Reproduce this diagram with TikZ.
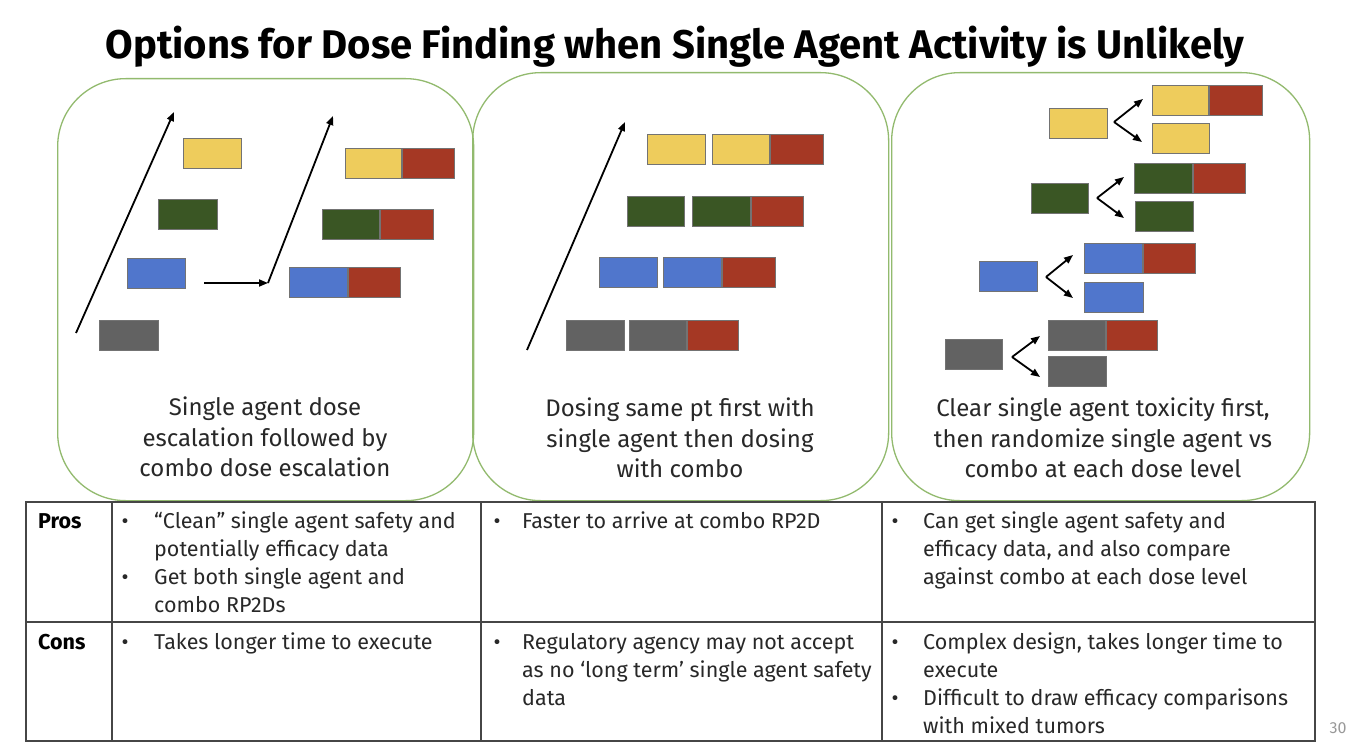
\documentclass[tikz,border=0pt]{standalone}
\usepackage{fontspec}
\setmainfont{Fira Sans}
\usetikzlibrary{arrows.meta}
\definecolor{ylw}{RGB}{238,204,92}
\definecolor{grn}{RGB}{58,86,36}
\definecolor{blu}{RGB}{80,118,204}
\definecolor{gry}{RGB}{98,98,98}
\definecolor{rd}{RGB}{165,56,36}
\definecolor{pangreen}{RGB}{146,186,110}
\definecolor{txt}{RGB}{40,40,40}
\definecolor{tblline}{RGB}{70,70,70}
\begin{document}
\begin{tikzpicture}[x=1pt,y=-1pt,
  blk/.style={draw=black!55,line width=0.6,inner sep=0,minimum height=30,anchor=north west},
  blkr/.style={blk,fill=rd,anchor=west},
  panel/.style={draw=pangreen,line width=1.3,rounded corners=68,inner sep=0,anchor=north west},
  arr/.style={-{Triangle[length=9,width=7]},line width=1.8,black},
  captxt/.style={align=center,text=txt,font=\fontsize{24}{30.5}\selectfont},
  celltxt/.style={anchor=base west,inner sep=0,text=txt,font=\fontsize{21.5}{24}\selectfont},
  bul/.style={anchor=base,inner sep=0,text=txt,font=\fontsize{21.5}{24}\selectfont},
  hd/.style={anchor=base west,inner sep=0,text=black,font=\fontsize{21.5}{24}\selectfont\bfseries},
  tbl/.style={draw=tblline,line width=1.2}
]
\useasboundingbox[fill=white] (0,0) rectangle (1366,743);

% title
\node[font=\fontsize{40}{46}\selectfont\bfseries] (title) at (675,47) {Options for Dose Finding when Single Agent Activity is Unlikely};

% panels
\node[panel,minimum width=416,minimum height=422] (pan1) at (57,78) {};
\node[panel,minimum width=416,minimum height=428] (pan2) at (472,72) {};
\node[panel,minimum width=418,minimum height=428] (pan3) at (891,72) {};

% panel 1
\node[blk,fill=ylw,minimum width=58] (a1) at (183,138) {};
\node[blk,fill=grn,minimum width=59] (a2) at (158,199) {};
\node[blk,fill=blu,minimum width=58] (a3) at (127,258) {};
\node[blk,fill=gry,minimum width=59] (a4) at (99,320) {};
\node[blk,fill=ylw,minimum width=56] (b1) at (345,148) {};
\node[blkr,minimum width=52] (b1r) at (b1.east) {};
\node[blk,fill=grn,minimum width=57] (b2) at (322,209) {};
\node[blkr,minimum width=53] (b2r) at (b2.east) {};
\node[blk,fill=blu,minimum width=58] (b3) at (289,267) {};
\node[blkr,minimum width=52] (b3r) at (b3.east) {};
\coordinate (e1s) at (76,333);
\coordinate (e1e) at (174,112);
\coordinate (hs) at (204,283);
\coordinate (hk) at (268,283);
\coordinate (e2e) at (333,116);
\draw[arr] (e1s) -- (e1e);
\draw[arr] (hs) -- (hk);
\draw[arr] (hk) -- (e2e);
\node[captxt] (cap1) at (265,437) {Single agent dose\\escalation followed by\\combo dose escalation};

% panel 2
\node[blk,fill=ylw,minimum width=58] (c1) at (647,134) {};
\node[blk,fill=ylw,minimum width=57] (c1b) at (712,134) {};
\node[blkr,minimum width=53] (c1r) at (c1b.east) {};
\node[blk,fill=grn,minimum width=57] (c2) at (627,196) {};
\node[blk,fill=grn,minimum width=58] (c2b) at (692,196) {};
\node[blkr,minimum width=52] (c2r) at (c2b.east) {};
\node[blk,fill=blu,minimum width=58] (c3) at (599,257) {};
\node[blk,fill=blu,minimum width=58] (c3b) at (663,257) {};
\node[blkr,minimum width=53] (c3r) at (c3b.east) {};
\node[blk,fill=gry,minimum width=58] (c4) at (566,320) {};
\node[blk,fill=gry,minimum width=57] (c4b) at (629,320) {};
\node[blkr,minimum width=51] (c4r) at (c4b.east) {};
\coordinate (e3s) at (527,350);
\coordinate (e3e) at (625,122);
\draw[arr] (e3s) -- (e3e);
\node[captxt] (cap2) at (680,438) {Dosing same pt first with\\single agent then dosing\\with combo};

% panel 3
\node[blk,fill=ylw,minimum width=58] (ys) at (1049,108) {};
\node[blk,fill=ylw,minimum width=56] (yc) at (1152,85) {};
\node[blkr,minimum width=53] (ycr) at (yc.east) {};
\node[blk,fill=ylw,minimum width=57] (yr) at (1152,123) {};
\coordinate (yv) at (1114,122);
\coordinate (yu) at (1143,99);
\coordinate (yd) at (1142,142);
\draw[arr] (yv) -- (yu);
\draw[arr] (yv) -- (yd);

\node[blk,fill=grn,minimum width=57] (gs) at (1031,183) {};
\node[blk,fill=grn,minimum width=58] (gc) at (1134,163) {};
\node[blkr,minimum width=52] (gcr) at (gc.east) {};
\node[blk,fill=grn,minimum width=58] (gr) at (1135,201) {};
\coordinate (gv) at (1097,198);
\coordinate (gu) at (1124,177);
\coordinate (gd) at (1124,218);
\draw[arr] (gv) -- (gu);
\draw[arr] (gv) -- (gd);

\node[blk,fill=blu,minimum width=58] (bs) at (979,261) {};
\node[blk,fill=blu,minimum width=58] (bc) at (1084,243) {};
\node[blkr,minimum width=52] (bcr) at (bc.east) {};
\node[blk,fill=blu,minimum width=59] (br) at (1084,282) {};
\coordinate (bv) at (1046,277);
\coordinate (bu) at (1073,255);
\coordinate (bd) at (1073,298);
\draw[arr] (bv) -- (bu);
\draw[arr] (bv) -- (bd);

\node[blk,fill=gry,minimum width=57] (ks) at (945,339) {};
\node[blk,fill=gry,minimum width=57] (kc) at (1048,320) {};
\node[blkr,minimum width=51] (kcr) at (kc.east) {};
\node[blk,fill=gry,minimum width=58] (kr) at (1048,356) {};
\coordinate (kv) at (1012,357);
\coordinate (ku) at (1040,336);
\coordinate (kd) at (1040,377);
\draw[arr] (kv) -- (ku);
\draw[arr] (kv) -- (kd);
\node[captxt] (cap3) at (1103,438) {Clear single agent toxicity first,\\then randomize single agent vs\\combo at each dose level};

% table
\draw[tbl] (26,502) rectangle (1315,741);
\draw[tbl] (26,622) -- (1315,622);
\draw[tbl] (112,502) -- (112,741);
\draw[tbl] (481,502) -- (481,741);
\draw[tbl] (882,502) -- (882,741);

\node[hd] (pros) at (38,528) {Pros};
\node[hd] (cons) at (38,649) {Cons};

\node[bul] (p1b1) at (125,528) {•};
\node[celltxt] (p1l1) at (154,528) {“Clean” single agent safety and};
\node[celltxt] (p1l2) at (154,556) {potentially efficacy data};
\node[bul] (p1b2) at (125,584) {•};
\node[celltxt] (p1l3) at (154,584) {Get both single agent and};
\node[celltxt] (p1l4) at (154,612) {combo RP2Ds};

\node[bul] (p2b1) at (497,528) {•};
\node[celltxt] (p2l1) at (522,528) {Faster to arrive at combo RP2D};

\node[bul] (p3b1) at (895,528) {•};
\node[celltxt] (p3l1) at (923,528) {Can get single agent safety and};
\node[celltxt] (p3l2) at (923,556) {efficacy data, and also compare};
\node[celltxt] (p3l3) at (923,584) {against combo at each dose level};

\node[bul] (c1b1) at (125,649) {•};
\node[celltxt] (c1l1) at (154,649) {Takes longer time to execute};

\node[bul] (c2b1) at (497,649) {•};
\node[celltxt] (c2l1) at (522,649) {Regulatory agency may not accept};
\node[celltxt] (c2l2) at (522,677) {as no ‘long term’ single agent safety};
\node[celltxt] (c2l3) at (522,705) {data};

\node[bul] (c3b1) at (895,649) {•};
\node[celltxt] (c3l1) at (923,649) {Complex design, takes longer time to};
\node[celltxt] (c3l2) at (923,677) {execute};
\node[bul] (c3b2) at (895,705) {•};
\node[celltxt] (c3l3) at (923,705) {Difficult to draw efficacy comparisons};
\node[celltxt] (c3l4) at (923,733) {with mixed tumors};

\node[text=black!40,font=\fontsize{16}{16}\selectfont] (pg) at (1338,728) {30};
\end{tikzpicture}
\end{document}
